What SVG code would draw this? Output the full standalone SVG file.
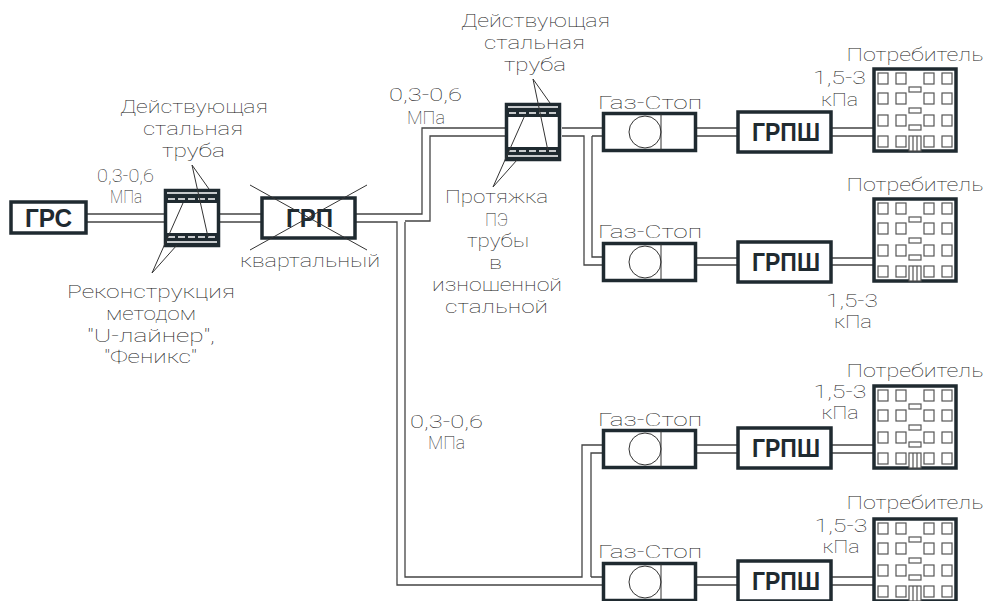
<svg xmlns="http://www.w3.org/2000/svg" xmlns:xlink="http://www.w3.org/1999/xlink" width="987" height="601" viewBox="0 0 987 601">
<style>
.box{fill:#fff;stroke:#1f2a30;stroke-width:3.5}
.pipe{fill:none;stroke:#444;stroke-width:1.3}
.thin{fill:none;stroke:#333;stroke-width:1}
.win{fill:#fff;stroke:#555;stroke-width:1.2}
.t{font-family:"Roboto","Liberation Sans",sans-serif;font-weight:100;font-size:18px;fill:#222}
.b{font-family:"Liberation Sans",sans-serif;font-weight:700;font-size:25px;fill:#1f2a30}
.band{fill:#1f2a30}
.ws{stroke:#fff;stroke-width:1.5;fill:none}
.wd{stroke:#fff;stroke-width:1.5;fill:none;stroke-dasharray:7 3}
</style>
<defs>
<g id="section">
<rect class="box" x="1.5" y="1.5" width="53" height="55"/>
<rect class="band" x="0" y="0" width="56" height="14"/>
<rect class="band" x="0" y="44" width="56" height="14"/>
<path class="ws" d="M3 4H53M3 53H53"/>
<path class="wd" d="M4 10H53M4 48H53"/>
</g>
<g id="stop">
<rect class="box" x="1.5" y="1.5" width="92" height="37"/>
<circle class="thin" cx="43" cy="20" r="16"/>
<path class="thin" d="M59 2V38"/>
</g>
<g id="house">
<rect class="box" x="2" y="2" width="82" height="82"/>
<g class="win">
<rect x="6" y="6" width="10" height="11"/><rect x="24" y="6" width="10" height="11"/><rect x="52" y="6" width="10" height="11"/><rect x="70" y="6" width="10" height="11"/>
<rect x="6" y="26" width="10" height="11"/><rect x="24" y="26" width="10" height="11"/><rect x="52" y="26" width="10" height="11"/><rect x="70" y="26" width="10" height="11"/>
<rect x="6" y="48" width="10" height="11"/><rect x="24" y="48" width="10" height="11"/><rect x="52" y="48" width="10" height="11"/><rect x="70" y="48" width="10" height="11"/>
<rect x="6" y="69" width="10" height="11"/><rect x="24" y="69" width="10" height="11"/><rect x="52" y="69" width="10" height="11"/><rect x="70" y="69" width="10" height="11"/>
<rect x="37" y="20" width="12" height="5"/><rect x="37" y="41" width="12" height="5"/><rect x="37" y="58" width="12" height="5"/>
<rect x="37" y="69" width="12" height="15"/><path d="M41 69V84M45 69V84"/>
</g>
</g>
</defs>

<g id="connectors">
<path class="pipe" d="M87 214H165M87 222H165M220 214H262M220 222H262"/>
<path class="pipe" d="M355 214H422V128H505M355 222H397V585H602M405 222V577H582V445H602M405 221H430V136H505"/>
<path class="pipe" d="M591 577V453H602M591 577H602"/>
<path class="pipe" d="M562 128H602M562 136H584V265H602M592 136H602M592 136V257H602"/>
<path class="pipe" d="M697 128H737M697 136H737M697 258H737M697 265H737M697 445H737M697 453H737M697 577H737M697 585H737"/>
<path class="pipe" d="M832 128H873M832 136H873M832 258H873M832 265H873M832 445H873M832 453H873M832 577H873M832 585H873"/>
</g>

<g id="grs"><rect class="box" x="11" y="202" width="75" height="31"/><text class="b" x="48.500" y="227" text-anchor="middle" textLength="47" lengthAdjust="spacingAndGlyphs">ГРС</text></g>

<g id="section1"><use xlink:href="#section" x="164" y="189"/>
<path class="thin" d="M192 165L209 189M192 165L208 237M152 273L183 203M152 273L177 245"/>
<g class="t" text-anchor="middle">
<text x="194" y="113" textLength="148" lengthAdjust="spacingAndGlyphs">Действующая</text>
<text x="193" y="135" textLength="100" lengthAdjust="spacingAndGlyphs">стальная</text>
<text x="193.500" y="157" textLength="63" lengthAdjust="spacingAndGlyphs">труба</text>
<text x="125.500" y="182" textLength="57" lengthAdjust="spacingAndGlyphs">0,3-0,6</text>
<text x="126" y="203" textLength="32" lengthAdjust="spacingAndGlyphs">МПа</text>
<text x="151" y="298" textLength="168" lengthAdjust="spacingAndGlyphs">Реконструкция</text>
<text x="151" y="320" textLength="90" lengthAdjust="spacingAndGlyphs">методом</text>
<text x="151" y="342" textLength="128" lengthAdjust="spacingAndGlyphs">"U-лайнер",</text>
<text x="150.500" y="363" textLength="93" lengthAdjust="spacingAndGlyphs">"Феникс"</text>
</g></g>

<g id="grp"><rect class="box" x="262" y="198" width="93" height="40"/><text class="b" x="309.500" y="227" text-anchor="middle" textLength="47" lengthAdjust="spacingAndGlyphs">ГРП</text>
<path class="thin" d="M250 185L367 250M250 250L367 185"/>
<text class="t" x="310" y="267" text-anchor="middle" textLength="140" lengthAdjust="spacingAndGlyphs">квартальный</text></g>

<g id="section2"><use xlink:href="#section" x="505" y="103"/>
<path class="thin" d="M533 79L550 103M533 79L548 151M493 187L525 115M493 187L517 160"/>
<g class="t" text-anchor="middle">
<text x="535.500" y="27" textLength="149" lengthAdjust="spacingAndGlyphs">Действующая</text>
<text x="534.500" y="49" textLength="101" lengthAdjust="spacingAndGlyphs">стальная</text>
<text x="535" y="71" textLength="62" lengthAdjust="spacingAndGlyphs">труба</text>
<text x="425.500" y="101" textLength="73" lengthAdjust="spacingAndGlyphs">0,3-0,6</text>
<text x="426" y="124" textLength="38" lengthAdjust="spacingAndGlyphs">МПа</text>
<text x="496.500" y="203" textLength="103" lengthAdjust="spacingAndGlyphs">Протяжка</text>
<text x="496.500" y="226" textLength="23" lengthAdjust="spacingAndGlyphs">ПЭ</text>
<text x="498" y="247" textLength="62" lengthAdjust="spacingAndGlyphs">трубы</text>
<text x="495.500" y="269" textLength="13" lengthAdjust="spacingAndGlyphs">в</text>
<text x="497" y="291" textLength="130" lengthAdjust="spacingAndGlyphs">изношенной</text>
<text x="496.500" y="313" textLength="103" lengthAdjust="spacingAndGlyphs">стальной</text>
</g></g>

<text id="pressure3" class="t" x="446.500" y="428" text-anchor="middle" textLength="73" lengthAdjust="spacingAndGlyphs">0,3-0,6</text>
<text id="pressure3b" class="t" x="446.500" y="449" text-anchor="middle" textLength="37" lengthAdjust="spacingAndGlyphs">МПа</text>

<g id="stop1"><use xlink:href="#stop" x="602" y="112"/><text class="t" x="650" y="109" text-anchor="middle" textLength="104" lengthAdjust="spacingAndGlyphs">Газ-Стоп</text></g>
<g id="stop2"><use xlink:href="#stop" x="602" y="242"/><text class="t" x="650" y="238" text-anchor="middle" textLength="104" lengthAdjust="spacingAndGlyphs">Газ-Стоп</text></g>
<g id="stop3"><use xlink:href="#stop" x="602" y="429"/><text class="t" x="650" y="426" text-anchor="middle" textLength="104" lengthAdjust="spacingAndGlyphs">Газ-Стоп</text></g>
<g id="stop4"><use xlink:href="#stop" x="602" y="562"/><text class="t" x="650" y="558" text-anchor="middle" textLength="104" lengthAdjust="spacingAndGlyphs">Газ-Стоп</text></g>

<g id="grpsh1"><rect class="box" x="738" y="112" width="93" height="40"/><text class="b" x="786" y="141" text-anchor="middle" textLength="68" lengthAdjust="spacingAndGlyphs">ГРПШ</text></g>
<g id="grpsh2"><rect class="box" x="738" y="242" width="93" height="40"/><text class="b" x="786" y="271" text-anchor="middle" textLength="68" lengthAdjust="spacingAndGlyphs">ГРПШ</text></g>
<g id="grpsh3"><rect class="box" x="738" y="428" width="93" height="40"/><text class="b" x="786" y="457" text-anchor="middle" textLength="68" lengthAdjust="spacingAndGlyphs">ГРПШ</text></g>
<g id="grpsh4"><rect class="box" x="738" y="561" width="93" height="40"/><text class="b" x="786" y="590" text-anchor="middle" textLength="68" lengthAdjust="spacingAndGlyphs">ГРПШ</text></g>

<g id="consumer1"><use xlink:href="#house" x="872" y="67"/>
<g class="t" text-anchor="middle"><text x="915" y="61" textLength="137" lengthAdjust="spacingAndGlyphs">Потребитель</text><text x="839.500" y="84" textLength="53" lengthAdjust="spacingAndGlyphs">1,5-3</text><text x="839.500" y="106" textLength="37" lengthAdjust="spacingAndGlyphs">кПа</text></g></g>
<g id="consumer2"><use xlink:href="#house" x="872" y="197"/>
<g class="t" text-anchor="middle"><text x="915" y="191" textLength="137" lengthAdjust="spacingAndGlyphs">Потребитель</text><text x="852" y="307" textLength="52" lengthAdjust="spacingAndGlyphs">1,5-3</text><text x="853" y="328" textLength="38" lengthAdjust="spacingAndGlyphs">кПа</text></g></g>
<g id="consumer3"><use xlink:href="#house" x="872" y="384"/>
<g class="t" text-anchor="middle"><text x="915" y="377" textLength="137" lengthAdjust="spacingAndGlyphs">Потребитель</text><text x="840" y="398" textLength="53" lengthAdjust="spacingAndGlyphs">1,5-3</text><text x="840" y="419" textLength="37" lengthAdjust="spacingAndGlyphs">кПа</text></g></g>
<g id="consumer4"><use xlink:href="#house" x="872" y="517"/>
<g class="t" text-anchor="middle"><text x="915" y="509" textLength="137" lengthAdjust="spacingAndGlyphs">Потребитель</text><text x="841" y="532" textLength="53" lengthAdjust="spacingAndGlyphs">1,5-3</text><text x="841" y="553" textLength="37" lengthAdjust="spacingAndGlyphs">кПа</text></g></g>
</svg>
